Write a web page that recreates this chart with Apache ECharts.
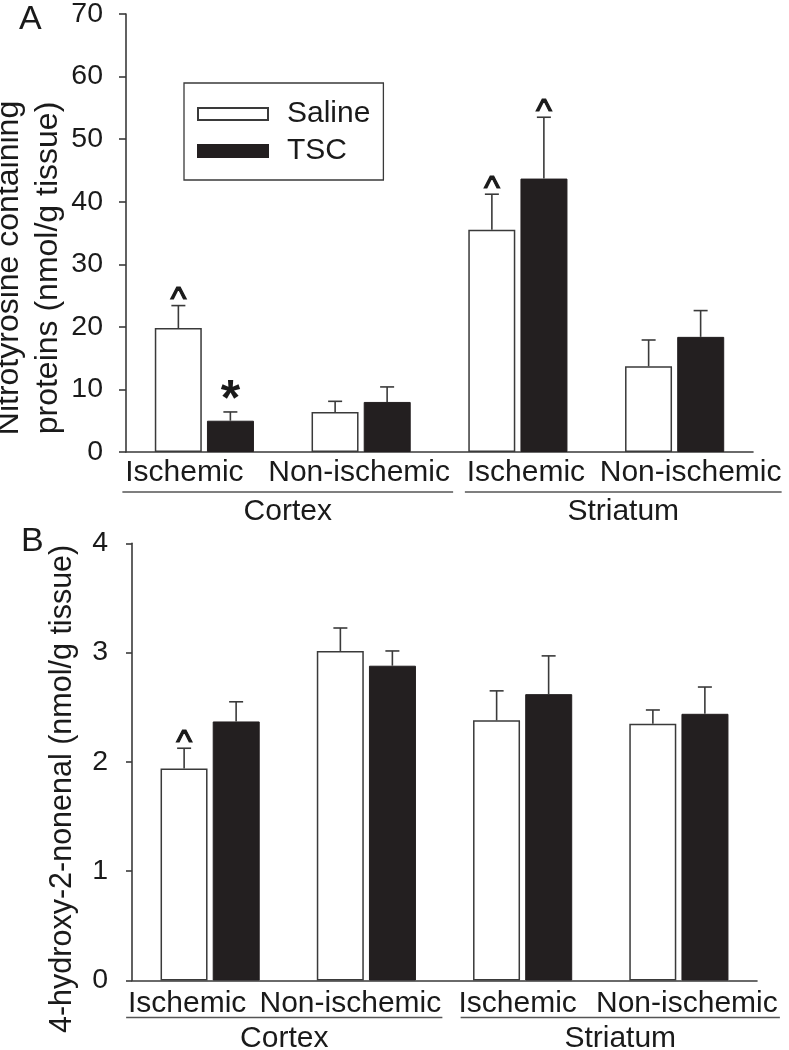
<!DOCTYPE html>
<html><head><meta charset="utf-8">
<script src="https://cdn.jsdelivr.net/npm/echarts@6/dist/echarts.min.js"></script>
<style>html,body{margin:0;padding:0;background:#fff}#c{width:789px;height:1050px}</style>
</head><body><div id="c"></div>
<script>
// ---------- DATA ----------
const categories = ['Ischemic', 'Non-ischemic', 'Ischemic', 'Non-ischemic'];
const groups = ['Cortex', 'Striatum'];
const seriesNames = ['Saline', 'TSC'];

// Panel A: Nitrotyrosine containing proteins (nmol/g tissue)
const nitroSaline = [19.8, 6.4, 35.5, 13.7];
const nitroSalineSem = [3.6, 1.7, 5.7, 4.2];
const nitroTSC = [5.0, 8.0, 43.7, 18.4];
const nitroTSCSem = [1.4, 2.4, 9.8, 4.2];
const nitroSalineMarks = ['^', '', '^', ''];
const nitroTSCMarks = ['*', '', '^', ''];
const nitroTicks = { min: 0, max: 70, step: 10 };

// Panel B: 4-hydroxy-2-nonenal (nmol/g tissue)
const hneSaline = [1.94, 3.015, 2.38, 2.35];
const hneSalineSem = [0.185, 0.21, 0.27, 0.125];
const hneTSC = [2.37, 2.88, 2.62, 2.44];
const hneTSCSem = [0.18, 0.135, 0.35, 0.245];
const hneSalineMarks = ['^', '', '', ''];
const hneTSCMarks = ['', '', '', ''];
const hneTicks = { min: 0, max: 4, step: 1 };

// ---------- STYLE ----------
const FONT = '"Liberation Sans", Arial, sans-serif';
const TXT = '#1a1a1a';
const LINE = '#3a3a3a';
const BAR_W = 47;
const HALF_PITCH = 26;

const panels = [
  { grid: { left: 126, top: 14, width: 627, height: 438 },
    labelShift: [-20, -2, 8, 16], labelMargin: 6,
    underline: [[-82, 92], [-53, 107]], underlineDy: 40, groupDy: 60,
    yName: 'Nitrotyrosine containing\nproteins (nmol/g tissue)', nameGap: 58, namePad: 70, nameSize: 32, nameLH: 39,
    tickLen: 7, tickMargin: 23, letter: 'A', letterPos: [19, 3] },
  { grid: { left: 132, top: 543.3, width: 625, height: 437.2 },
    labelShift: [-23, -16, -5, 8], labelMargin: 8,
    underline: [[-84, 76], [-62, 101]], underlineDy: 37, groupDy: 58,
    yName: '4-hydroxy-2-nonenal (nmol/g tissue)', nameGap: 50, namePad: 54, nameSize: 30.5, nameLH: 38,
    tickLen: 6, tickMargin: 24, letter: 'B', letterPos: [21, 525] }
];

function catData(shifts) {
  return categories.map((c, i) => {
    const s = shifts[i];
    return { value: c, textStyle: { padding: s >= 0 ? [0, 0, 0, 2 * s] : [0, -2 * s, 0, 0] } };
  });
}

function errSeries(idx, vals, sems, marks, sign) {
  return {
    type: 'custom', xAxisIndex: idx, yAxisIndex: idx, z: 5, silent: true,
    data: vals.map((v, i) => [i, v, v + sems[i]]),
    encode: { x: 0, y: [1, 2] },
    renderItem: function (params, api) {
      const i = api.value(0);
      const b = api.coord([i, api.value(1)]);
      const t = api.coord([i, api.value(2)]);
      const x = b[0] + sign * HALF_PITCH;
      const m = marks[i];
      const children = [
        { type: 'line', shape: { x1: x, y1: b[1], x2: x, y2: t[1] }, style: { stroke: LINE, lineWidth: 1.6 } },
        { type: 'line', shape: { x1: x - 7, y1: t[1], x2: x + 7, y2: t[1] }, style: { stroke: LINE, lineWidth: 1.6 } }
      ];
      if (m) {
        const star = m === '*';
        children.push({ type: 'text', style: {
          text: m, x: x, y: star ? t[1] + 14 : t[1] + 12, align: 'center', verticalAlign: 'bottom',
          fontSize: star ? 50 : 34, fontWeight: star ? 'bold' : 'normal', fontFamily: FONT, fill: TXT,
          stroke: star ? null : TXT, lineWidth: star ? 0 : 1.2 } });
      }
      return { type: 'group', children: children };
    }
  };
}

const grids = [], xAxes = [], yAxes = [], series = [];
const datasets = [
  [nitroSaline, nitroSalineSem, nitroSalineMarks, nitroTSC, nitroTSCSem, nitroTSCMarks, nitroTicks],
  [hneSaline, hneSalineSem, hneSalineMarks, hneTSC, hneTSCSem, hneTSCMarks, hneTicks]
];
panels.forEach((p, k) => {
  const d = datasets[k];
  grids.push(Object.assign({ containLabel: false, outerBoundsMode: 'none' }, p.grid));
  xAxes.push({
    type: 'category', gridIndex: k, data: catData(p.labelShift),
    axisLine: { lineStyle: { color: LINE, width: 1.6 } },
    axisTick: { show: false },
    axisLabel: { interval: 0, margin: p.labelMargin, fontSize: 30, color: TXT, fontFamily: FONT, hideOverlap: false }
  });
  yAxes.push({
    type: 'value', gridIndex: k, min: d[6].min, max: d[6].max, interval: d[6].step,
    splitLine: { show: false },
    axisLine: { show: true, lineStyle: { color: LINE, width: 1.6 } },
    axisTick: { show: true, length: p.tickLen, lineStyle: { color: LINE, width: 1.6 } },
    axisLabel: { margin: p.tickMargin, fontSize: 28.5, color: TXT, fontFamily: FONT },
    name: p.yName, nameLocation: 'middle', nameRotate: 90, nameGap: p.nameGap, nameMoveOverlap: false,
    nameTextStyle: { fontSize: p.nameSize, lineHeight: p.nameLH, color: TXT, fontFamily: FONT, padding: [0, p.namePad, 0, 0] }
  });
  series.push({
    name: seriesNames[0], type: 'bar', xAxisIndex: k, yAxisIndex: k, data: d[0],
    barWidth: BAR_W, barGap: '11%',
    itemStyle: { color: '#ffffff', borderColor: LINE, borderWidth: 1.5 }
  });
  series.push({
    name: seriesNames[1], type: 'bar', xAxisIndex: k, yAxisIndex: k, data: d[3],
    barWidth: BAR_W, barGap: '11%',
    itemStyle: { color: '#231f20', borderColor: '#231f20', borderWidth: 1 }
  });
  series.push(errSeries(k, d[0], d[1], d[2], -1));
  series.push(errSeries(k, d[3], d[4], d[5], 1));
});

const chart = echarts.init(document.getElementById('c'), null, { renderer: 'canvas' });
chart.setOption({
  backgroundColor: '#ffffff',
  animation: false,
  textStyle: { fontFamily: FONT },
  grid: grids, xAxis: xAxes, yAxis: yAxes, series: series,
  legend: {
    data: seriesNames, orient: 'vertical', left: 184, top: 83,
    itemWidth: 70, itemHeight: 12, itemGap: 7, icon: 'rect', selectedMode: false,
    padding: [16, 13, 14, 13], borderColor: LINE, borderWidth: 1.3,
    textStyle: { fontSize: 30, lineHeight: 30, color: TXT, fontFamily: FONT, padding: [0, 0, 0, 14] }
  }
});

// group underlines and group names, positioned from the category axis scale
const gfx = [];
panels.forEach((p, k) => {
  const axisY = chart.convertToPixel({ yAxisIndex: k }, 0);
  groups.forEach((g, gi) => {
    const xl = chart.convertToPixel({ xAxisIndex: k }, 2 * gi) + p.underline[gi][0];
    const xr = chart.convertToPixel({ xAxisIndex: k }, 2 * gi + 1) + p.underline[gi][1];
    gfx.push({ type: 'line', shape: { x1: xl, y1: axisY + p.underlineDy, x2: xr, y2: axisY + p.underlineDy },
      style: { stroke: '#555', lineWidth: 1.6 } });
    gfx.push({ type: 'text', x: (xl + xr) / 2, y: axisY + p.groupDy,
      style: { text: g, fontSize: 30, fontFamily: FONT, fill: TXT, align: 'center', verticalAlign: 'middle' } });
  });
  gfx.push({ type: 'text', x: p.letterPos[0], y: p.letterPos[1],
    style: { text: p.letter, fontSize: 34, fontFamily: FONT, fill: TXT, align: 'left', verticalAlign: 'top' } });
});
chart.setOption({ graphic: gfx });
</script>
</body></html>
